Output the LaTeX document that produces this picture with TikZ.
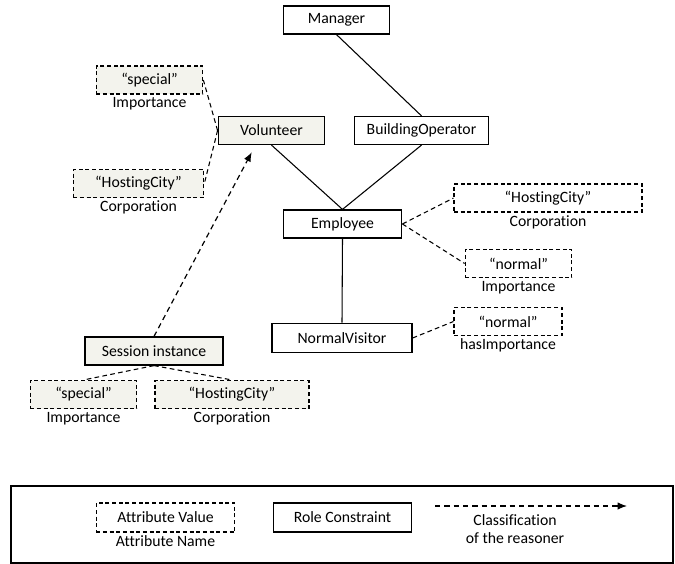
\documentclass[tikz,border=0pt]{standalone}
\usepackage{fontspec}
\setmainfont{Carlito}[Ligatures=NoCommon]
\usetikzlibrary{positioning,calc,arrows.meta}
\definecolor{attrfill}{RGB}{243,243,237}
\tikzset{role/.style={draw=black, line width=0.9pt, minimum height=21pt, inner sep=0pt},
attr/.style={draw=black, line width=0.8pt, dash pattern=on 3pt off 2pt, minimum height=21pt, inner sep=0pt},
lbl/.style={inner sep=1pt},
link/.style={line width=0.8pt},
dlink/.style={line width=0.8pt, dash pattern=on 3.5pt off 2.5pt},
classif/.style={line width=0.9pt, dash pattern=on 4pt off 3pt, -{Latex[length=7pt,width=5.5pt]}}}

\begin{document}
\begin{tikzpicture}[x=0.75pt,y=-0.75pt,font=\fontsize{11.8}{13}\selectfont]
\useasboundingbox (0,0) rectangle (675,564);
% roles
\node[role, minimum width=80pt] (mgr) at (336.5,20) {Manager};
\node[role, minimum width=80pt, fill=attrfill] (vol) at (271.5,130.5) {Volunteer};
\node[role, minimum width=100pt] (bop) at (421.5,130.5) {BuildingOperator};
\node[role, minimum width=89pt] (emp) at (342.5,224) {Employee};
\node[role, minimum width=105pt, minimum height=22pt] (nv) at (342,338) {NormalVisitor};
\node[role, minimum width=103.5pt, fill=attrfill] (sess) at (154,351) {Session instance};

% attribute values
\node[attr, minimum width=80pt, fill=attrfill] (sp1) at (149.5,80) {``special''};
\node[lbl, below=1pt of sp1] (sp1n) {Importance};
\node[attr, minimum width=98pt, fill=attrfill] (hc1) at (138.5,183.5) {``HostingCity''};
\node[lbl, below=1pt of hc1] (hc1n) {Corporation};
\node[attr, minimum width=141pt] (hc2) at (548,198) {``HostingCity''};
\node[lbl, below=1pt of hc2] (hc2n) {Corporation};
\node[attr, minimum width=80pt] (no1) at (518.5,263.5) {``normal''};
\node[lbl, below=1pt of no1] (no1n) {Importance};
\node[attr, minimum width=81pt] (no2) at (508,321.5) {``normal''};
\node[lbl, below=1pt of no2] (no2n) {hasImportance};
\node[attr, minimum width=80pt, fill=attrfill] (sp2) at (83.5,394.5) {``special''};
\node[lbl, below=1pt of sp2] (sp2n) {Importance};
\node[attr, minimum width=115.5pt, fill=attrfill] (hc3) at (232,394.5) {``HostingCity''};
\node[lbl, below=1pt of hc3] (hc3n) {Corporation};

% hierarchy
\draw[link] (mgr.south)--(bop.north) (vol.south)--(emp.north) (bop.south)--(emp.north) (emp.south)--(nv.north);
\draw[dlink] (vol.west)--(sp1.east) (vol.west)--(hc1.east);
\draw[dlink] (emp.east)--(hc2.west) (emp.east)--(no1.west) (nv.east)--(no2.west);
\draw[dlink] (sess.south)--(sp2.north) (sess.south)--(hc3.north);
\draw[classif, shorten >=6pt] (sess.north)--($(vol.south)+(-16,0)$);

% legend
\node[draw=black, line width=0.9pt, minimum width=496.5pt, minimum height=57.75pt, inner sep=0pt] (leg) at (342,524.5) {};
\node[attr, minimum width=104pt, minimum height=21.75pt] (lav) at (165.5,517.5) {Attribute Value};
\node[lbl, below=1pt of lav] (lavn) {Attribute Name};
\node[role, minimum width=104pt, minimum height=21.75pt] (lrc) at (342.5,517.5) {Role Constraint};
\coordinate (la) at (435,506);
\coordinate (lb) at (627,506);
\draw[classif] (la)--(lb);
\node[lbl, align=center] (lcl) at (515,529) {Classification\\of the reasoner};
\end{tikzpicture}
\end{document}
